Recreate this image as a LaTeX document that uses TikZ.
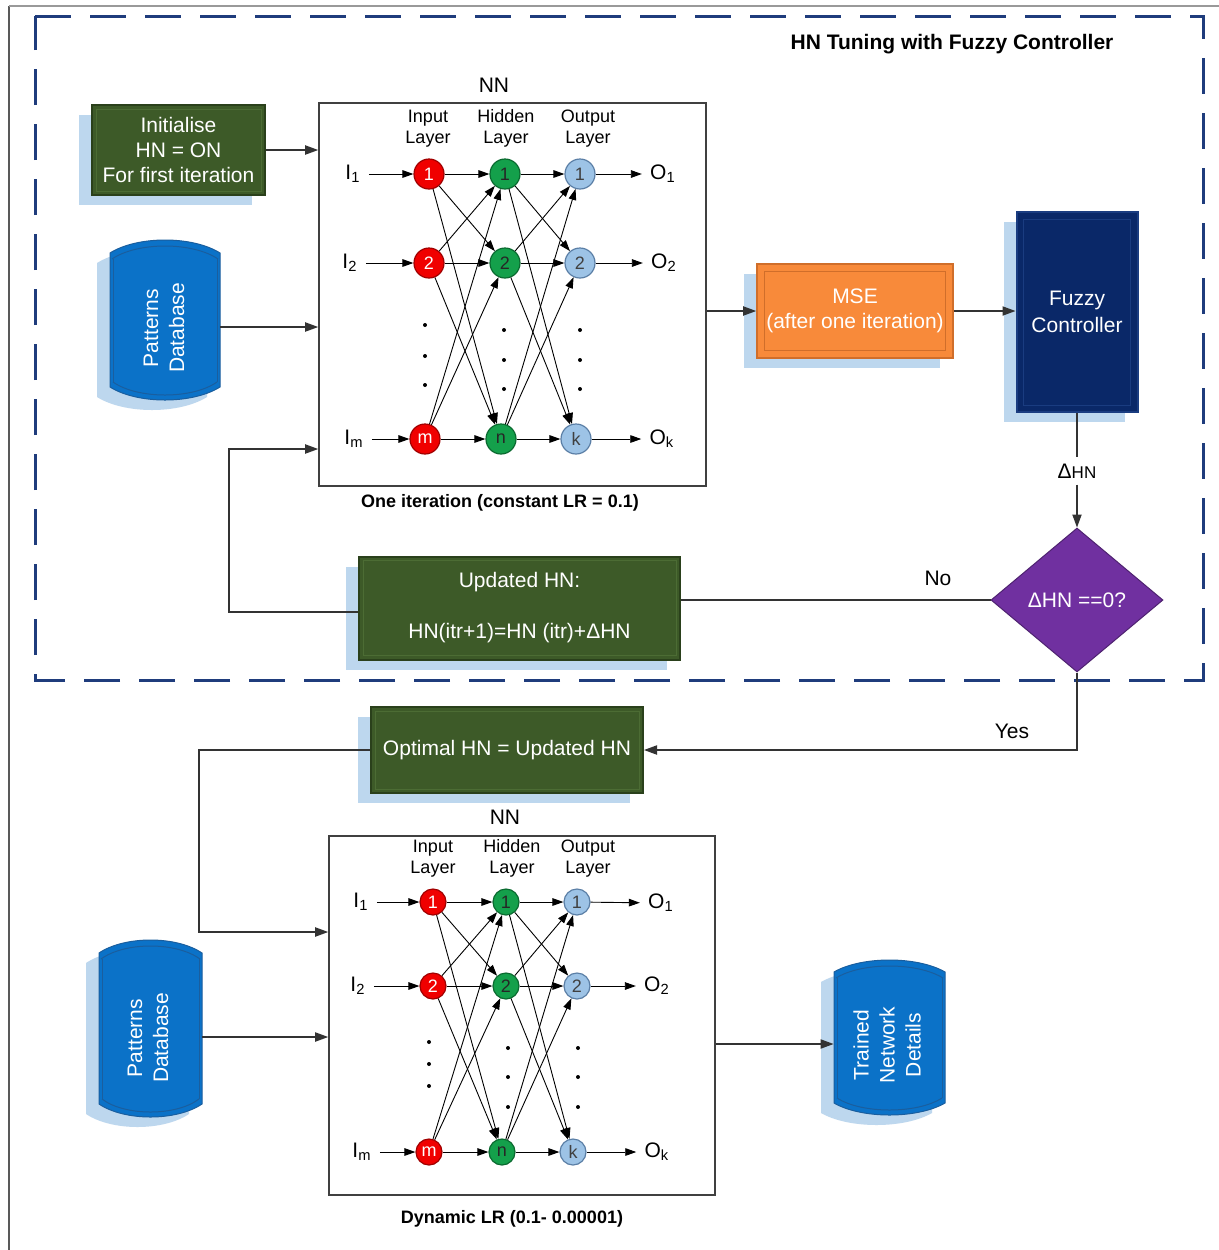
\documentclass[tikz,border=0pt]{standalone}
\usepackage{fontspec}
\setmainfont{Liberation Sans}
\usetikzlibrary{arrows.meta,shapes.geometric,calc,shadows}
\definecolor{boxgreen}{HTML}{3D5A28}
\definecolor{boxgreenD}{HTML}{2A401B}
\definecolor{boxgreenL}{HTML}{4C6C34}
\definecolor{mseorange}{HTML}{F88A3A}
\definecolor{mseD}{HTML}{D06E2A}
\definecolor{fznavy}{HTML}{0A2868}
\definecolor{fzD}{HTML}{1A3C80}
\definecolor{diapurple}{HTML}{7030A0}
\definecolor{dbblue}{HTML}{0B72C8}
\definecolor{dbD}{HTML}{1A5E9E}
\definecolor{shadowblue}{HTML}{BDD7EE}
\definecolor{dashnavy}{HTML}{1F3C7C}
\definecolor{nred}{HTML}{F00000}
\definecolor{nredD}{HTML}{A00000}
\definecolor{ngreen}{HTML}{14A04B}
\definecolor{ngreenD}{HTML}{0B6A30}
\definecolor{nblue}{HTML}{9DC3E6}
\definecolor{nblueD}{HTML}{5B7FA6}
\newcommand\fA{\fontsize{10.5}{12.5}\selectfont}
\newcommand\fB{\fontsize{9}{10.5}\selectfont}
\newcommand\dbshape[6]{%
  \path[#1] ({#2},{#4+#6}) .. controls ({#2+(#3-#2)/4},{#4-#6/3}) and ({#3-(#3-#2)/4},{#4-#6/3}) .. ({#3},{#4+#6})
   -- ({#3},{#5-#6}) .. controls ({#3-(#3-#2)/4},{#5+#6/3}) and ({#2+(#3-#2)/4},{#5+#6/3}) .. ({#2},{#5-#6}) -- cycle;}
\newcommand\dbinner[5]{%
  \draw[dbD, line width=0.5pt] ({#1+2},{#3+#5+6}) .. controls ({#1+(#2-#1)/4},{#3+6-#5/3}) and ({#2-(#2-#1)/4},{#3+6-#5/3}) .. ({#2-2},{#3+#5+6});
  \draw[dbD, line width=0.5pt] ({#1+3},{#4-#5-5}) .. controls ({#1+(#2-#1)/4},{#4-5+#5/3}) and ({#2-(#2-#1)/4},{#4-5+#5/3}) .. ({#2-3},{#4-#5-5});
  \draw[dbD, line width=0.4pt] ({#1+3},{#3+#5+6}) -- ({#1+3},{#4-#5-5});
  \draw[dbD, line width=0.4pt] ({#2-3},{#3+#5+6}) -- ({#2-3},{#4-#5-5});}
\newcommand\mynet[8]{%
  \node[inN,#8] (#1i1) at (#2,#5) {1};
  \node[inN,#8] (#1i2) at (#2,#6) {2};
  \node[inN,#8] (#1im) at ({#2-4},#7) {m};
  \node[hidN,#8] (#1h1) at (#3,#5) {1};
  \node[hidN,#8] (#1h2) at (#3,#6) {2};
  \node[hidN,#8] (#1hn) at ({#3-4},#7) {n};
  \node[outN,#8] (#1o1) at (#4,#5) {1};
  \node[outN,#8] (#1o2) at (#4,#6) {2};
  \node[outN,#8] (#1ok) at ({#4-4},#7) {k};
  \foreach \ia in {i1,i2,im}{\foreach \ib in {h1,h2,hn}{\draw[narr] (#1\ia) -- (#1\ib);}}
  \foreach \ia in {h1,h2,hn}{\foreach \ib in {o1,o2,ok}{\draw[narr] (#1\ia) -- (#1\ib);}}
}
\begin{document}
\begin{tikzpicture}[x=0.5pt,y=-0.5pt,
  conn/.style={draw=black!80, line width=0.65pt},
  arr/.style={conn, -{Triangle[length=6.5pt,width=4.6pt]}},
  narr/.style={draw=black, line width=0.45pt, -{Triangle[length=5.5pt,width=3.8pt]}},
  shad/.style={drop shadow={shadow xshift=-6.5pt,shadow yshift=-5pt,fill=shadowblue,opacity=1,draw=none}},
  gbox/.style={shad, fill=boxgreen, draw=boxgreenD, line width=1pt, text=white, font=\fA, align=center, inner sep=0pt},
  netnode/.style={circle, inner sep=0pt, line width=0.6pt, font=\fB},
  inN/.style={netnode, fill=nred, draw=nredD, text=white},
  hidN/.style={netnode, fill=ngreen, draw=ngreenD, text=black!85},
  outN/.style={netnode, fill=nblue, draw=nblueD, text=black!75},
  lab/.style={font=\fA, inner sep=4pt},
  nnbox/.style={draw=black!75, line width=0.8pt, fill=white, inner sep=0pt},
  dbtext/.style={rotate=90, text=white, font=\fontsize{10.5}{13}\selectfont, align=center}
]
\useasboundingbox (0,0) rectangle (1219,1250);
\fill[white] (0,0) rectangle (1219,1250);
% outer frame
\draw[black!65, line width=1pt] (9,1250) -- (9,6);
\draw[black!40, line width=0.6pt] (9,6) -- (1219,6);
% dashed region
\draw[dashnavy, line width=1.5pt, dash pattern=on 18pt off 9.5pt] (35,16) -- (1203,16) -- (1203,680) -- (35,680) -- cycle;
\node[font=\bfseries\fA] (title) at (952,44) {HN Tuning with Fuzzy Controller};

% Initialise box
\node[gbox, minimum width=86.5pt, minimum height=45pt] (init) at (178.5,150) {Initialise\\HN = ON\\For first iteration};
\draw[boxgreenL, line width=0.5pt] ($(init.south west)+(5,-5)$) rectangle ($(init.north east)+(-5,5)$);

% Patterns database 1
\node[inner sep=0pt, minimum width=55pt, minimum height=80pt] (db1) at (165,320) {};
\dbshape{fill=shadowblue, shift={(-13,10)}}{110}{220}{240}{400}{13}
\dbshape{fill=dbblue, draw=dbD, line width=0.5pt}{110}{220}{240}{400}{13}
\dbinner{110}{220}{240}{400}{13}
\node[dbtext] (db1t) at (164,328) {Patterns\\Database};

% NN1
\node[nnbox, minimum width=193.5pt, minimum height=191.5pt] (nn1) at (512.5,294.5) {};
\node[font=\fA] (nn1t) at (494,85) {NN};
\node[font=\bfseries\fontsize{9}{11}\selectfont] (nn1c) at (500,503) {One iteration (constant LR = 0.1)};
\node[font=\fB, align=center] (a_il) at (428,129) {Input\\Layer};
\node[font=\fB, align=center] (a_hl) at (506,128) {Hidden\\Layer};
\node[font=\fB, align=center] (a_ol) at (588,129) {Output\\Layer};
\mynet{a}{429}{505}{580}{174}{263}{439}{minimum size=15pt}
\node[lab] (al1) at (353,174) {I\textsubscript{1}};
\node[lab] (al2) at (350,263) {I\textsubscript{2}};
\node[lab] (alm) at (354,439) {I\textsubscript{m}};
\draw[narr] (al1) -- (ai1);
\draw[narr] (al2) -- (ai2);
\draw[narr] (alm) -- (aim);
\node[lab] (aq1) at (663,174) {O\textsubscript{1}};
\node[lab] (aq2) at (664,263) {O\textsubscript{2}};
\node[lab] (aqk) at (662,439) {O\textsubscript{k}};
\draw[narr] (ao1) -- (aq1);
\draw[narr] (ao2) -- (aq2);
\draw[narr] (aok) -- (aqk);
\foreach \yy in {325,356,385}{\fill (425,\yy) circle[radius=1pt];}
\foreach \yy in {330,360,389}{\fill (504,\yy) circle[radius=1pt]; \fill (580,\yy) circle[radius=1pt];}

% MSE and Fuzzy
\node[shad, fill=mseorange, draw=mseD, line width=0.8pt, minimum width=98pt, minimum height=47pt, text=white, font=\fA, align=center, inner sep=0pt] (mse) at (855,311) {MSE\\(after one iteration)};
\draw[mseD, line width=0.5pt] ($(mse.south west)+(8,-8)$) rectangle ($(mse.north east)+(-8,8)$);
\node[shad, fill=fznavy, draw=fzD, line width=1pt, minimum width=60.5pt, minimum height=100pt, text=white, font=\fontsize{10.5}{13.5}\selectfont, align=center, inner sep=0pt] (fz) at (1077,312) {Fuzzy\\Controller};
\draw[fzD, line width=0.5pt] ($(fz.south west)+(8,-8)$) rectangle ($(fz.north east)+(-8,8)$);
\draw[arr] (nn1.east |- mse.west) -- (mse.west);
\draw[arr] (mse.east) -- (mse.east -| fz.west);

% Delta HN and decision
\node[font=\fA, inner sep=3pt] (dl) at (1077,471) {Δ{\fontsize{8.5}{10}\selectfont HN}};
\node[diamond, fill=diapurple, draw=diapurple!70!black, line width=0.5pt, minimum width=86pt, minimum height=72pt, shape aspect=1.19, inner sep=0pt, text=white, font=\fA] (dia) at (1077,600) {ΔHN ==0?};
\draw[conn] (fz.south) -- (dl.north);
\draw[arr] (dl.south) -- (dia.north);

% Updated HN
\node[gbox, minimum width=160.5pt, minimum height=51.5pt] (upd) at (519.5,608) {Updated HN:\\[13pt]HN(itr+1)=HN (itr)+ΔHN};
\draw[boxgreenL, line width=0.5pt] ($(upd.south west)+(5,-5)$) rectangle ($(upd.north east)+(-5,5)$);
\draw[conn] (dia.west) -- (dia.west -| upd.east);
\node[font=\fA] (nolab) at (938,578) {No};
\draw[arr] (upd.west |- 0,612) -- (229,612) |- (nn1.west |- 0,449);
\draw[arr] (init.east) -- (init.east -| nn1.west);
\draw[arr] (db1.east |- 0,327) -- (nn1.west |- 0,327);

% Optimal HN
\node[gbox, minimum width=136pt, minimum height=43pt] (opt) at (507,750) {Optimal HN = Updated HN};
\draw[boxgreenL, line width=0.5pt] ($(opt.south west)+(5,-5)$) rectangle ($(opt.north east)+(-5,5)$);
\draw[arr] (dia.south) |- (opt.east);
\node[font=\fA] (yeslab) at (1012,731) {Yes};

% NN2
\node[nnbox, minimum width=193pt, minimum height=179.5pt] (nn2) at (522,1015.5) {};
\node[font=\fA] (nn2t) at (505,817) {NN};
\node[font=\bfseries\fontsize{9}{11}\selectfont] (nn2c) at (512,1219) {Dynamic LR (0.1- 0.00001)};
\node[font=\fB, align=center] (b_il) at (433,859) {Input\\Layer};
\node[font=\fB, align=center] (b_hl) at (512,858) {Hidden\\Layer};
\node[font=\fB, align=center] (b_ol) at (588,859) {Output\\Layer};
\mynet{b}{433}{506}{577}{902}{986}{1152}{minimum size=13pt}
\node[lab] (bl1) at (361,902) {I\textsubscript{1}};
\node[lab] (bl2) at (358,986) {I\textsubscript{2}};
\node[lab] (blm) at (362,1152) {I\textsubscript{m}};
\draw[narr] (bl1) -- (bi1);
\draw[narr] (bl2) -- (bi2);
\draw[narr] (blm) -- (bim);
\node[lab] (bq1) at (661,903) {O\textsubscript{1}};
\node[lab] (bq2) at (657,986) {O\textsubscript{2}};
\node[lab] (bqk) at (657,1152) {O\textsubscript{k}};
\draw[narr] (bo1) -- (bq1);
\draw[narr] (bo2) -- (bq2);
\draw[narr] (bok) -- (bqk);
\foreach \yy in {1042,1064,1086}{\fill (429,\yy) circle[radius=1pt];}
\foreach \yy in {1048,1077,1107}{\fill (508,\yy) circle[radius=1pt]; \fill (578,\yy) circle[radius=1pt];}
\draw[arr] (opt.west) -- (199,750) |- (nn2.west |- 0,932);

% Patterns database 2
\node[inner sep=0pt, minimum width=51.5pt, minimum height=88.5pt] (db2) at (150.5,1028.5) {};
\dbshape{fill=shadowblue, shift={(-13,10)}}{99}{202}{940}{1117}{13}
\dbshape{fill=dbblue, draw=dbD, line width=0.5pt}{99}{202}{940}{1117}{13}
\dbinner{99}{202}{940}{1117}{13}
\node[dbtext] (db2t) at (148,1038) {Patterns\\Database};
\draw[arr] (db2.east |- 0,1037) -- (nn2.west |- 0,1037);

% Trained network details
\node[inner sep=0pt, minimum width=55.5pt, minimum height=77.5pt] (tdb) at (889.5,1037.5) {};
\dbshape{fill=shadowblue, shift={(-13,10)}}{834}{945}{960}{1115}{12}
\dbshape{fill=dbblue, draw=dbD, line width=0.5pt}{834}{945}{960}{1115}{12}
\dbinner{834}{945}{960}{1115}{12}
\node[dbtext] (tdbt) at (887,1045) {Trained\\Network\\Details};
\draw[arr] (nn2.east |- 0,1044) -- (tdb.west |- 0,1044);
\end{tikzpicture}
\end{document}
